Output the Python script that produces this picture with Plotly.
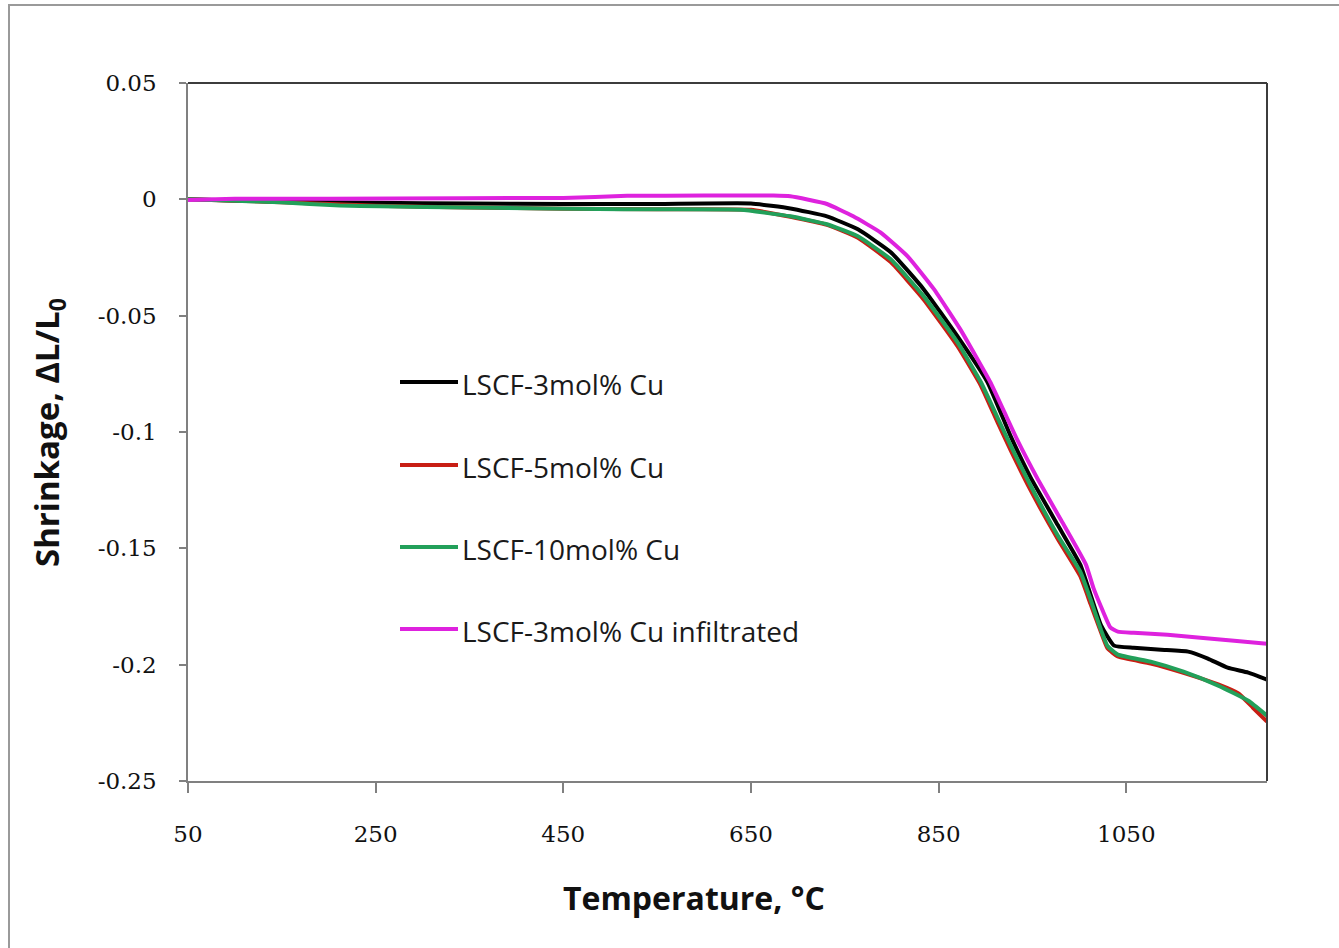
import plotly.graph_objects as go

# Dilatometry shrinkage curves (ΔL/L0 vs temperature)
t_cu3 = [50, 100, 150, 250, 350, 450, 550, 650, 692, 731, 764, 799, 834, 870, 902,
         927, 948, 977, 1001, 1012, 1023, 1037, 1058, 1087, 1116, 1137, 1158, 1180, 1200]
s_cu3 = [0, -0.0005, -0.001, -0.0015, -0.0018, -0.002, -0.002, -0.0018, -0.0039, -0.0073,
         -0.0129, -0.0227, -0.0386, -0.0588, -0.0785, -0.102, -0.1195, -0.140, -0.157,
         -0.170, -0.183, -0.1918, -0.1927, -0.1936, -0.1944, -0.1974, -0.2013, -0.2034, -0.2064]

t_cu5 = [50, 100, 150, 250, 350, 450, 550, 650, 692, 731, 764, 799, 834, 870, 895, 913,
         927, 948, 977, 1001, 1012, 1023, 1030, 1041, 1076, 1111, 1148, 1170, 1185, 1200]
s_cu5 = [0, -0.0006, -0.0012, -0.0028, -0.0035, -0.004, -0.0043, -0.0045, -0.0075, -0.011,
         -0.0165, -0.027, -0.043, -0.063, -0.080, -0.096, -0.108, -0.125, -0.146, -0.162,
         -0.174, -0.186, -0.193, -0.1965, -0.1995, -0.2035, -0.2085, -0.2125, -0.2185, -0.2245]

t_cu10 = [50, 100, 148, 212, 255, 350, 514, 639, 692, 731, 764, 799, 834, 870, 895, 913,
          927, 948, 977, 1001, 1012, 1023, 1030, 1041, 1076, 1111, 1148, 1180, 1200]
s_cu10 = [0, -0.0006, -0.0013, -0.0026, -0.003, -0.0035, -0.0043, -0.0045, -0.0073, -0.0107,
          -0.0159, -0.0258, -0.0416, -0.0614, -0.0785, -0.094, -0.106, -0.123, -0.1445,
          -0.160, -0.172, -0.185, -0.192, -0.1957, -0.1987, -0.2030, -0.2090, -0.2155, -0.2219]

t_inf = [50, 100, 200, 343, 450, 518, 600, 674, 692, 731, 759, 788, 817, 845, 873, 905,
         919, 934, 956, 980, 1007, 1015, 1023, 1033, 1041, 1058, 1094, 1129, 1165, 1200]
s_inf = [-0.0003, 0.0002, 0.0002, 0.0005, 0.0006, 0.0015, 0.0016, 0.0016, 0.0013, -0.002,
         -0.0073, -0.0142, -0.0245, -0.0386, -0.0558, -0.0785, -0.0905, -0.1035, -0.1205,
         -0.1375, -0.157, -0.167, -0.175, -0.184, -0.1858, -0.1863, -0.1871, -0.1884,
         -0.1897, -0.1910]

names = ["LSCF-3mol% Cu", "LSCF-5mol% Cu", "LSCF-10mol% Cu", "LSCF-3mol% Cu infiltrated"]
colors = ["#000000", "#c81e14", "#22a05a", "#de22de"]
series = [(t_cu3, s_cu3), (t_cu5, s_cu5), (t_cu10, s_cu10), (t_inf, s_inf)]

x_ticks = [50, 250, 450, 650, 850, 1050]
y_ticks = [0.05, 0, -0.05, -0.1, -0.15, -0.2, -0.25]
y_tick_text = ["0.05", "0", "-0.05", "-0.1", "-0.15", "-0.2", "-0.25"]

fig = go.Figure()
for (t, s), name, col in zip(series, names, colors):
    fig.add_trace(go.Scatter(x=t, y=s, mode="lines", name=name, showlegend=False,
                             line=dict(color=col, width=4, shape="spline", smoothing=0.4)))

W, H = 1339, 948
L, R, T, B = 188, 72, 83, 167
pw, ph = W - L - R, H - T - B


def px_x(p):
    return (p - L) / pw


def px_y(p):
    return (H - B - p) / ph


shapes = []
annotations = []

# Legend drawn inside the plot area
legend_rows = [382, 465, 547, 629]
for name, col, row in zip(names, colors, legend_rows):
    shapes.append(dict(type="line", xref="paper", yref="paper",
                       x0=px_x(400), x1=px_x(458), y0=px_y(row), y1=px_y(row),
                       line=dict(color=col, width=4)))
    annotations.append(dict(xref="paper", yref="paper", x=px_x(460), y=px_y(row + 2),
                            xanchor="left", yanchor="middle", showarrow=False,
                            text=name, font=dict(family="Open Sans", size=28, color="#1a1a1a")))

# Top and right frame of the plot area
shapes.append(dict(type="line", xref="paper", yref="paper", x0=0, x1=1, y0=1, y1=1,
                   line=dict(color="#3c3c3c", width=2)))
shapes.append(dict(type="line", xref="paper", yref="paper", x0=1, x1=1, y0=0, y1=1,
                   line=dict(color="#3c3c3c", width=2)))
# Outer chart border
shapes.append(dict(type="rect", xref="paper", yref="paper",
                   x0=px_x(9), x1=px_x(1360), y0=px_y(960), y1=px_y(5),
                   line=dict(color="#9a9a9a", width=2)))

annotations.append(dict(xref="paper", yref="paper", x=px_x(694), y=px_y(897),
                        xanchor="center", yanchor="middle", showarrow=False,
                        text="<b>Temperature, °C</b>",
                        font=dict(family="Open Sans", size=32, color="#111111")))
annotations.append(dict(xref="paper", yref="paper", x=px_x(48), y=px_y(433),
                        xanchor="center", yanchor="middle", showarrow=False, textangle=-90,
                        text="<b>Shrinkage, ΔL/L<sub>0</sub></b>",
                        font=dict(family="Open Sans", size=33, color="#111111")))

fig.update_layout(
    width=W, height=H,
    margin=dict(l=L, r=R, t=T, b=B),
    paper_bgcolor="white", plot_bgcolor="white",
    shapes=shapes, annotations=annotations,
    xaxis=dict(range=[50, 1200], tickvals=x_ticks, ticks="outside", ticklen=10,
               tickcolor="#808080", tickwidth=1.5, showline=True, linecolor="#808080",
               linewidth=1.5, showgrid=False, zeroline=False, ticklabelstandoff=22,
               tickfont=dict(family="DejaVu Serif", size=23, color="#111111")),
    yaxis=dict(range=[-0.25, 0.05], tickvals=y_ticks, ticktext=y_tick_text,
               ticks="outside", ticklen=7, tickcolor="#808080", tickwidth=1.5,
               showline=True, linecolor="#808080", linewidth=1.5, showgrid=False,
               zeroline=False, ticklabelstandoff=18,
               tickfont=dict(family="DejaVu Serif", size=23, color="#111111")),
)

fig.write_html("out.html")
